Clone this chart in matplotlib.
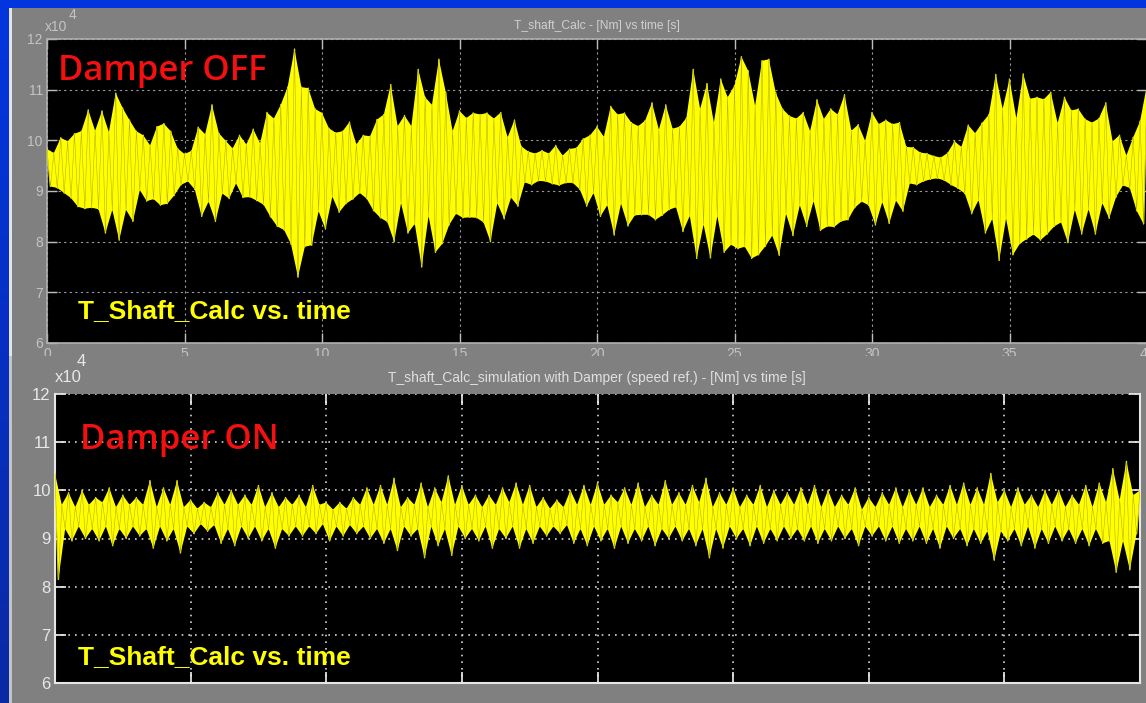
import numpy as np
import matplotlib
matplotlib.use('Agg')
import matplotlib.pyplot as plt
from matplotlib import font_manager
from matplotlib.patches import Rectangle
from matplotlib.colors import LinearSegmentedColormap

# 轴转矩 T_shaft，单位 1e4 Nm，每秒 4 个峰值 / 4 个谷值（0~40 s）
# 阻尼器关闭
peaks_off = [
    9.83, 9.75, 10.05, 9.98,
    10.13, 10.18, 10.60, 10.19,
    10.58, 10.16, 10.93, 10.64,
    10.40, 10.18, 10.10, 9.90,
    10.27, 10.33, 10.18, 9.84,
    9.73, 9.79, 10.26, 10.12,
    10.70, 10.14, 9.99, 9.84,
    10.10, 9.92, 10.22, 9.94,
    10.55, 10.43, 10.70, 11.05,
    11.80, 11.05, 11.03, 10.62,
    10.54, 10.24, 10.15, 10.18,
    10.36, 9.92, 10.10, 10.08,
    10.41, 10.51, 11.10, 10.28,
    10.49, 10.28, 11.40, 10.85,
    10.70, 11.60, 10.95, 10.18,
    10.58, 10.44, 10.54, 10.51,
    10.54, 10.43, 10.55, 10.06,
    10.40, 9.88, 9.78, 9.74,
    9.80, 9.74, 9.90, 9.70,
    9.83, 9.85, 10.03, 10.10,
    10.27, 10.07, 10.67, 10.51,
    10.54, 10.35, 10.28, 10.39,
    10.74, 10.21, 10.70, 10.23,
    10.27, 10.44, 11.40, 10.62,
    11.12, 10.35, 11.21, 10.85,
    11.08, 11.65, 11.37, 10.68,
    11.57, 11.60, 10.94, 10.62,
    10.48, 10.43, 10.55, 10.18,
    10.80, 10.42, 10.62, 10.51,
    10.90, 10.19, 10.31, 9.99,
    10.55, 10.32, 10.40, 10.32,
    10.35, 9.87, 9.86, 9.76,
    9.74, 9.69, 9.66, 9.75,
    9.98, 9.87, 10.30, 10.14,
    10.34, 10.51, 11.30, 10.62,
    11.21, 10.43, 11.31, 10.82,
    10.85, 10.81, 10.95, 10.34,
    10.85, 10.59, 10.62, 10.42,
    10.35, 10.43, 10.74, 9.98,
    10.10, 9.70, 10.06, 10.38,
    11.10,
]
troughs_off = [
    9.09, 9.06, 8.96, 8.86,
    8.69, 8.65, 8.67, 8.64,
    8.17, 8.63, 8.03, 8.63,
    8.40, 9.02, 8.80, 8.84,
    8.72, 8.75, 8.91, 9.12,
    9.19, 9.03, 8.50, 8.79,
    8.40, 8.95, 8.85, 9.15,
    8.87, 8.88, 8.81, 8.73,
    8.49, 8.30, 8.23, 7.95,
    7.30, 7.90, 7.93, 8.60,
    8.25, 8.89, 8.58, 8.75,
    8.84, 8.96, 8.85, 8.61,
    8.47, 8.39, 8.00, 8.76,
    8.17, 8.35, 7.50, 8.51,
    7.79, 7.96, 8.33, 8.55,
    8.47, 8.48, 8.47, 8.38,
    8.00, 8.76, 8.45, 8.87,
    8.70, 9.17, 9.12, 9.20,
    9.19, 9.14, 9.11, 9.16,
    9.16, 9.03, 8.70, 8.96,
    8.50, 8.72, 8.13, 8.75,
    8.31, 8.52, 8.53, 8.53,
    8.43, 8.52, 8.63, 8.68,
    8.20, 8.51, 7.67, 8.34,
    7.68, 8.51, 7.79, 7.94,
    7.86, 7.90, 7.67, 7.74,
    7.91, 8.12, 7.73, 8.55,
    8.12, 8.72, 8.30, 8.80,
    8.22, 8.30, 8.29, 8.40,
    8.43, 8.67, 8.79, 8.72,
    8.33, 8.78, 8.36, 8.81,
    8.60, 9.15, 9.12, 9.19,
    9.23, 9.25, 9.21, 9.12,
    9.05, 8.95, 8.55, 8.82,
    8.17, 8.45, 7.63, 8.46,
    7.74, 7.96, 8.05, 8.14,
    8.03, 8.15, 8.30, 8.38,
    7.98, 8.63, 8.15, 8.64,
    8.15, 8.76, 8.46, 8.88,
    9.11, 9.06, 8.61, 8.35,
]

# 阻尼器开启（速度参考）
peaks_on = [
    10.35, 9.70, 9.95, 9.65,
    10.00, 9.70, 9.85, 9.75,
    10.05, 9.65, 9.90, 9.70,
    9.85, 9.70, 10.20, 9.65,
    10.05, 9.70, 10.20, 9.65,
    9.80, 9.62, 9.75, 9.65,
    9.95, 9.70, 10.00, 9.70,
    9.90, 9.70, 10.10, 9.65,
    9.95, 9.65, 9.85, 9.70,
    9.90, 9.65, 10.10, 9.70,
    9.75, 9.60, 9.75, 9.62,
    9.85, 9.70, 10.05, 9.70,
    10.10, 9.70, 10.25, 9.65,
    9.85, 9.70, 10.15, 9.65,
    10.05, 9.75, 10.30, 9.70,
    10.10, 9.70, 9.90, 9.65,
    9.90, 9.70, 10.05, 9.75,
    10.15, 9.70, 10.10, 9.65,
    9.85, 9.62, 9.80, 9.65,
    10.00, 9.70, 10.10, 9.70,
    10.15, 9.70, 9.90, 9.75,
    10.05, 9.70, 10.15, 9.65,
    9.90, 9.70, 10.20, 9.70,
    9.95, 9.70, 10.10, 9.75,
    10.25, 9.65, 9.95, 9.70,
    10.05, 9.65, 9.90, 9.70,
    10.10, 9.65, 10.00, 9.70,
    9.95, 9.70, 10.05, 9.70,
    10.10, 9.65, 10.00, 9.65,
    9.90, 9.70, 10.05, 9.60,
    9.85, 9.65, 9.95, 9.70,
    10.05, 9.65, 10.00, 9.70,
    10.05, 9.65, 9.90, 9.70,
    10.10, 9.70, 10.15, 9.70,
    10.05, 9.70, 10.35, 9.75,
    10.00, 9.65, 10.05, 9.70,
    9.90, 9.65, 10.00, 9.70,
    10.00, 9.65, 9.90, 9.70,
    10.10, 9.65, 10.15, 9.75,
    10.45, 9.80, 10.60, 9.90,
    10.00,
]
troughs_on = [
    8.15, 9.20, 8.95, 9.25,
    9.00, 9.20, 8.95, 9.25,
    8.85, 9.20, 9.00, 9.25,
    9.05, 9.20, 8.80, 9.25,
    8.95, 9.20, 8.70, 9.25,
    9.10, 9.30, 9.15, 9.28,
    8.90, 9.20, 8.85, 9.25,
    9.00, 9.25, 8.95, 9.20,
    8.80, 9.20, 9.05, 9.25,
    9.05, 9.25, 9.10, 9.30,
    8.95, 9.25, 9.05, 9.28,
    9.10, 9.25, 9.00, 9.20,
    8.90, 9.20, 8.75, 9.25,
    9.05, 9.20, 8.60, 9.25,
    8.85, 9.20, 8.65, 9.25,
    9.00, 9.20, 8.95, 9.25,
    8.80, 9.20, 9.00, 9.25,
    8.80, 9.20, 8.90, 9.25,
    9.05, 9.25, 9.10, 9.28,
    8.90, 9.20, 8.85, 9.25,
    8.95, 9.20, 8.80, 9.25,
    8.90, 9.20, 8.95, 9.25,
    8.85, 9.20, 9.00, 9.25,
    8.95, 9.20, 8.85, 9.20,
    8.60, 9.20, 8.80, 9.25,
    9.00, 9.20, 8.85, 9.25,
    8.90, 9.20, 8.95, 9.25,
    9.00, 9.20, 8.95, 9.25,
    8.90, 9.20, 8.95, 9.25,
    9.00, 9.20, 8.85, 9.25,
    9.05, 9.25, 8.95, 9.25,
    8.90, 9.20, 8.95, 9.25,
    8.90, 9.20, 8.80, 9.25,
    9.00, 9.20, 8.85, 9.20,
    8.90, 9.15, 8.55, 9.15,
    8.95, 9.20, 8.85, 9.25,
    8.80, 9.20, 8.90, 9.25,
    8.95, 9.20, 8.90, 9.20,
    8.85, 9.20, 8.90, 8.95,
    8.30, 8.95, 8.35, 9.10,
]

x_ticks = [0, 5, 10, 15, 20, 25, 30, 35, 40]
y_ticks = [6, 7, 8, 9, 10, 11, 12]

title_off = 'T_shaft_Calc - [Nm] vs time [s]'
title_on = 'T_shaft_Calc_simulation with Damper (speed ref.) - [Nm] vs time [s]'
signal_name = 'T_Shaft_Calc vs. time'

W, H = 1146, 703

installed = {f.name for f in font_manager.fontManager.ttflist}
NARROW = 'Liberation Sans Narrow' if 'Liberation Sans Narrow' in installed else 'Liberation Sans'
ROUND = 'Open Sans' if 'Open Sans' in installed else 'DejaVu Sans'


def box(x0, y0, x1, y1):
    # 像素坐标 -> figure 坐标
    return [x0 / W, 1 - y1 / H, (x1 - x0) / W, (y1 - y0) / H]


def fx(x):
    return x / W


def fy(y):
    return 1 - y / H


def rect(x0, y0, x1, y1, color, z):
    r = Rectangle((x0 / W, 1 - y1 / H), (x1 - x0) / W, (y1 - y0) / H,
                  transform=fig.transFigure, facecolor=color, edgecolor='none', zorder=z)
    fig.add_artist(r)


def draw_signal(ax, peaks, troughs):
    # 峰、谷交替排列，按时间均匀分布
    t = np.linspace(0, 40, len(peaks) + len(troughs))
    y = np.empty(t.size)
    y[0::2] = peaks
    y[1::2] = troughs
    # 峰值连线与谷值连线围成的包络带
    tp, tt = t[0::2], t[1::2]
    ax.fill(np.concatenate([tp, tt[::-1]]), np.concatenate([peaks, troughs[::-1]]),
            color='#ffff00', lw=0, zorder=2)
    ax.plot(t, y, color='#ffff00', lw=1.0, zorder=3)
    ax.plot(t, y, color='#8c8400', lw=0.35, alpha=0.7, zorder=4)


fig = plt.figure(figsize=(W / 100, H / 100), dpi=100)

# 蓝色幻灯片背景
bg = fig.add_axes([0, 0, 1, 1], zorder=0)
bg.imshow(np.linspace(0, 1, 256)[:, None], aspect='auto', extent=[0, 1, 0, 1],
          cmap=LinearSegmentedColormap.from_list('slide', ['#0336e0', '#0a2aa4']))
bg.set_axis_off()

# ---------- 上图：阻尼器关闭 ----------
rect(10, 8, W, 356, '#808080', 0.5)
rect(9, 8, 11.5, 356, '#e4e4e4', 0.6)

ax1 = fig.add_axes(box(47, 39, 1147, 343), zorder=1)
ax1.set_facecolor('black')
draw_signal(ax1, peaks_off, troughs_off)
ax1.set_xlim(0, 40)
ax1.set_ylim(6, 12)
ax1.set_xticks(x_ticks)
ax1.set_yticks(y_ticks)
ax1.grid(True, color='#9a9a9a', ls=(0, (2, 3)), lw=0.8, zorder=1)
ax1.set_axisbelow(True)
ax1.tick_params(direction='in', length=7, width=1, color='#bdbdbd', labelcolor='#c4c4c4',
                labelsize=10, top=True, right=True, pad=3)
for lbl in ax1.get_xticklabels() + ax1.get_yticklabels():
    lbl.set_family(NARROW)
for sp in ax1.spines.values():
    sp.set_color('#b0b0b0')
    sp.set_linewidth(1.2)

fig.text(fx(597), fy(26), title_off, ha='center', va='center', fontsize=8.7,
         color='#d0d0d0', family='Liberation Sans', zorder=1.5)
fig.text(fx(45), fy(27), 'x10', ha='left', va='center', fontsize=10,
         color='#c4c4c4', family=NARROW, zorder=1.5)
fig.text(fx(69), fy(15), '4', ha='left', va='center', fontsize=10,
         color='#c4c4c4', family=NARROW, zorder=1.5)
fig.text(fx(58), fy(80), 'Damper OFF', ha='left', va='baseline', fontsize=25,
         color='#f21010', family=ROUND, fontweight='semibold', zorder=1.5)
fig.text(fx(78), fy(318), signal_name, ha='left', va='baseline', fontsize=19,
         color='#ffff00', family='Liberation Sans', fontweight='bold', zorder=1.5)

# ---------- 下图：阻尼器开启 ----------
rect(10, 356, W, H, '#808080', 2)
rect(9, 356, 11.5, H, '#c4c4c4', 2.1)

ax2 = fig.add_axes(box(55, 394, 1140, 683), zorder=3)
ax2.set_facecolor('black')
draw_signal(ax2, peaks_on, troughs_on)
ax2.set_xlim(0, 40)
ax2.set_ylim(6, 12)
ax2.set_xticks(x_ticks)
ax2.set_yticks(y_ticks)
ax2.grid(True, color='#d4d4d4', ls=(0, (1, 3)), lw=1.2, zorder=1)
ax2.set_axisbelow(True)
ax2.tick_params(direction='in', length=8, width=1.2, color='#f0f0f0', labelcolor='#e8e8e8',
                labelsize=12, top=True, right=True, pad=3, labelbottom=False)
for lbl in ax2.get_yticklabels():
    lbl.set_family(NARROW)
for name, sp in ax2.spines.items():
    sp.set_color('#e6e6e6')
    sp.set_linewidth(1.5)
ax2.spines['top'].set_visible(False)

fig.text(fx(597), fy(378), title_on, ha='center', va='center', fontsize=10,
         color='#e0e0e0', family=NARROW, zorder=3.5)
fig.text(fx(55), fy(378), 'x10', ha='left', va='center', fontsize=12,
         color='#e8e8e8', family=NARROW, zorder=3.5)
fig.text(fx(77), fy(361), '4', ha='left', va='center', fontsize=12,
         color='#e8e8e8', family=NARROW, zorder=3.5)
fig.text(fx(80), fy(449), 'Damper ON', ha='left', va='baseline', fontsize=25,
         color='#f21010', family=ROUND, fontweight='semibold', zorder=3.5)
fig.text(fx(78), fy(664), signal_name, ha='left', va='baseline', fontsize=19,
         color='#ffff00', family='Liberation Sans', fontweight='bold', zorder=3.5)

fig.savefig('out.png', dpi=100, facecolor=fig.get_facecolor())
